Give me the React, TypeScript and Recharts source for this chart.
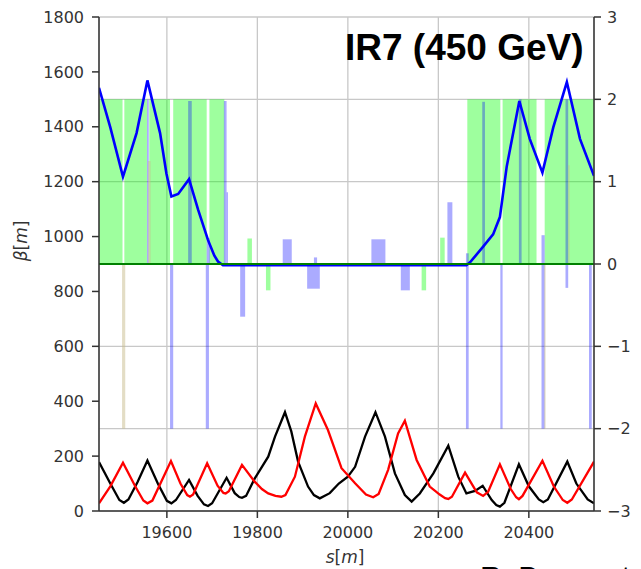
import { ComposedChart, Line, XAxis, YAxis, CartesianGrid, ReferenceArea } from "recharts"

// s positions [m]
const sTicks = [19600, 19800, 20000, 20200, 20400]
const betaTicks = [0, 200, 400, 600, 800, 1000, 1200, 1400, 1600, 1800]
const dispTicks = [-3, -2, -1, 0, 1, 2, 3]

// beta x (black)
const sBetx = [19450, 19475, 19495, 19505, 19515, 19535, 19557, 19580, 19600, 19610, 19620, 19649, 19668, 19682, 19691, 19700, 19732, 19750, 19760, 19766, 19775, 19794, 19824, 19839, 19861, 19875, 19890, 19912, 19925, 19938, 19960, 19980, 20000, 20016, 20038, 20061, 20082, 20104, 20126, 20141, 20159, 20189, 20222, 20244, 20262, 20281, 20298, 20318, 20328, 20336, 20346, 20378, 20400, 20422, 20432, 20442, 20485, 20505, 20530, 20544]
const betx = [178, 100, 40, 30, 42, 105, 184, 100, 37, 28, 40, 113, 55, 24, 18, 28, 121, 65, 51, 48, 55, 118, 198, 271, 360, 290, 180, 89, 58, 46, 65, 100, 125, 161, 271, 360, 271, 137, 58, 34, 64, 137, 238, 125, 64, 73, 92, 40, 22, 16, 30, 170, 90, 42, 32, 42, 180, 100, 42, 28]

// beta y (red)
const sBety = [19450, 19475, 19503, 19530, 19548, 19557, 19568, 19609, 19630, 19645, 19651, 19658, 19689, 19712, 19725, 19730, 19737, 19766, 19794, 19810, 19824, 19840, 19853, 19862, 19883, 19905, 19929, 19956, 19986, 20016, 20040, 20056, 20068, 20089, 20111, 20126, 20152, 20181, 20203, 20215, 20222, 20230, 20259, 20285, 20299, 20310, 20336, 20360, 20372, 20378, 20386, 20430, 20455, 20475, 20485, 20495, 20544]
const bety = [28, 90, 176, 90, 38, 28, 38, 182, 100, 58, 52, 60, 174, 92, 66, 64, 72, 168, 107, 80, 64, 55, 52, 58, 125, 271, 392, 295, 156, 101, 60, 50, 62, 150, 283, 329, 186, 89, 60, 47, 44, 52, 140, 68, 55, 70, 170, 80, 50, 43, 55, 183, 90, 40, 30, 42, 180]

// dispersion x (blue, right axis)
const sDx = [19450, 19475, 19503, 19533, 19557, 19585, 19599, 19610, 19625, 19649, 19669, 19691, 19705, 19713, 19724, 20262, 20270, 20299, 20321, 20336, 20351, 20379, 20402, 20430, 20454, 20484, 20513, 20544]
const dx = [2.14, 1.66, 1.06, 1.59, 2.23, 1.59, 1.1, 0.82, 0.85, 1.03, 0.66, 0.29, 0.1, 0.03, -0.015, -0.015, 0.02, 0.21, 0.36, 0.57, 1.18, 1.98, 1.52, 1.11, 1.66, 2.21, 1.52, 1.07]

// dispersion y (green, right axis)
const sDy = [19450, 20544]
const dy = [0, 0]

// collimator blocks (green, 0 -> 2)
const collStart = [19440, 19506, 19561, 19614, 19694, 20264, 20342, 20435]
const collEnd = [19502, 19556, 19607, 19688, 19727, 20337, 20417, 20550]

// sextupoles (green, small)
const sextStart = [19778, 19819, 20163, 20204]
const sextEnd = [19788, 19829, 20173, 20214]
const sextH = [0.31, -0.32, -0.32, 0.32]

// quadrupoles / magnets (blue)
const quadStart = [19762, 19856, 19910, 19925, 20052, 20117, 20220, 19647, 19688, 19726, 19732, 19607, 19686, 19556, 20261, 20297, 20337, 20378, 20428, 20481, 20533]
const quadEnd = [19773, 19876, 19938, 19932, 20083, 20137, 20231, 19655, 19695, 19732, 19735, 19614, 19693, 19560, 20267, 20303, 20342, 20384, 20435, 20487, 20539]
const quadLo = [-0.64, 0, -0.3, 0, 0, -0.32, 0, 0, 0, 0, 0, -2, -2, 0, -2, 0, -2, 0, -2, -0.29, -2]
const quadHi = [0, 0.3, 0, 0.08, 0.3, 0, 0.75, 1.98, 0.31, 1.98, 0.87, 0, 0, 2.0, 0.13, 1.97, 0, 2.0, 0.35, 2.0, 0]

// other elements (tan)
const tanStart = [19501, 19558, 20434, 20487]
const tanEnd = [19508, 19564, 20437, 20490]
const tanLo = [-2, 0, -2, 0]
const tanHi = [0, 1.25, 0, 1.2]

const toData = (s: number[], v: number[]) => s.map((x, i) => ({ s: x, v: v[i] }))

const tickStyle = { fill: "#333", fontSize: 16, fontFamily: "DejaVu Sans" }
const fmtRight = (v: number) => (v < 0 ? `\u2212${Math.abs(v)}` : `${v}`)

export default function App() {
  return (
    <div style={{ position: "absolute", left: 0, top: 0, width: 641, height: 569, overflow: "hidden", background: "#fff" }}>
      <ComposedChart width={641} height={569} margin={{ top: 17, right: 7, left: 39, bottom: 28 }}>
        <CartesianGrid yAxisId="right" stroke="#c8c8c8" strokeWidth={1.3} />
        <XAxis
          dataKey="s"
          type="number"
          domain={[19450, 20544]}
          ticks={sTicks}
          allowDataOverflow
          height={30}
          tickSize={7}
          tickMargin={9}
          tick={tickStyle}
          stroke="#333"
          strokeWidth={1.5}
        />
        <YAxis
          yAxisId="left"
          domain={[0, 1800]}
          ticks={betaTicks}
          width={60}
          tickSize={7}
          tickMargin={8}
          tick={tickStyle}
          stroke="#333"
          strokeWidth={1.5}
        />
        <YAxis
          yAxisId="right"
          orientation="right"
          domain={[-3, 3]}
          ticks={dispTicks}
          width={40}
          tickSize={7}
          tickMargin={6}
          tick={tickStyle}
          tickFormatter={fmtRight}
          stroke="#333"
          strokeWidth={1.5}
        />
        {collStart.map((s, i) => (
          <ReferenceArea key={"c" + i} yAxisId="right" x1={s} x2={collEnd[i]} y1={0} y2={2} fill="#00ff00" fillOpacity={0.38} stroke="none" ifOverflow="hidden" />
        ))}
        {sextStart.map((s, i) => (
          <ReferenceArea key={"x" + i} yAxisId="right" x1={s} x2={sextEnd[i]} y1={0} y2={sextH[i]} fill="#00ff00" fillOpacity={0.38} stroke="none" ifOverflow="hidden" />
        ))}
        {quadStart.map((s, i) => (
          <ReferenceArea key={"q" + i} yAxisId="right" x1={s} x2={quadEnd[i]} y1={quadLo[i]} y2={quadHi[i]} fill="#0000ff" fillOpacity={0.33} stroke="none" ifOverflow="hidden" />
        ))}
        {tanStart.map((s, i) => (
          <ReferenceArea key={"t" + i} yAxisId="right" x1={s} x2={tanEnd[i]} y1={tanLo[i]} y2={tanHi[i]} fill="#c8bc8c" fillOpacity={0.5} stroke="none" ifOverflow="hidden" />
        ))}
        <Line data={toData(sBetx, betx)} dataKey="v" yAxisId="left" type="linear" stroke="#000" strokeWidth={2.3} dot={false} isAnimationActive={false} />
        <Line data={toData(sBety, bety)} dataKey="v" yAxisId="left" type="linear" stroke="#ff0000" strokeWidth={2.3} dot={false} isAnimationActive={false} />
        <Line data={toData(sDx, dx)} dataKey="v" yAxisId="right" type="linear" stroke="#0000ff" strokeWidth={2.6} dot={false} isAnimationActive={false} />
        <Line data={toData(sDy, dy)} dataKey="v" yAxisId="right" type="linear" stroke="#008000" strokeWidth={2} dot={false} isAnimationActive={false} />
      </ComposedChart>
      <svg width={641} height={569} style={{ position: "absolute", left: 0, top: 0, pointerEvents: "none" }}>
        <text x={345} y={60} fontFamily="Liberation Sans" fontWeight="bold" fontSize={37} fill="#000">
          IR7 (450 GeV)
        </text>
        <text x={27} y={241} transform="rotate(-90 27 241)" textAnchor="middle" fontFamily="DejaVu Sans" fontSize={17} fill="#333">
          <tspan fontStyle="italic">β</tspan>[<tspan fontStyle="italic">m</tspan>]
        </text>
        <text x={345} y={563} textAnchor="middle" fontFamily="DejaVu Sans" fontSize={17} fill="#333">
          <tspan fontStyle="italic">s</tspan>[<tspan fontStyle="italic">m</tspan>]
        </text>
        <text x={480} y={587} fontFamily="Liberation Sans" fontSize={30} fill="#000">
          R. Bruce et al.
        </text>
      </svg>
    </div>
  )
}
